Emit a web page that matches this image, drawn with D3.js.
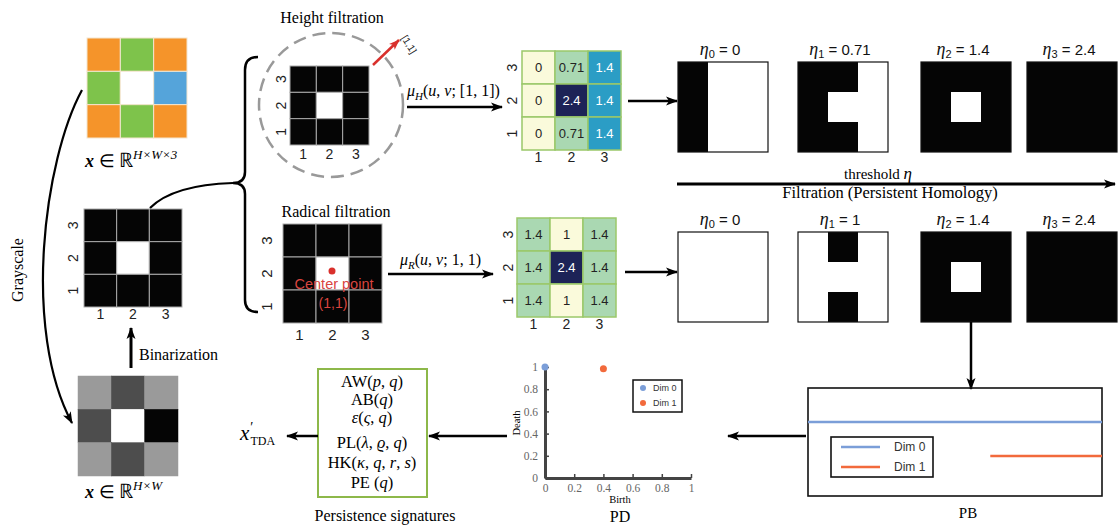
<!DOCTYPE html>
<html>
<head>
<meta charset="utf-8">
<script src="https://cdn.jsdelivr.net/npm/d3@7"></script>
<style>
body { margin: 0; background: #fff; }
text { font-family: "Liberation Sans", Arial, sans-serif; }
.serif { font-family: "Liberation Serif", "Times New Roman", serif; }
</style>
</head>
<body>
<svg id="fig" width="1119" height="528"></svg>
<script>
// ---- data ----
var cellIdx = [1, 2, 3];
var rgbImage = [["#F5942A", "#7EC34B", "#F5942A"],
                ["#7EC34B", "#FFFFFF", "#55A4DA"],
                ["#F5942A", "#7EC34B", "#F5942A"]];
var grayImage = [[154, 77, 154], [77, 255, 5], [154, 77, 154]];
var binaryImage = [[1, 1, 1], [1, 0, 1], [1, 1, 1]];
var heightValues = [[0, 0.71, 1.4], [0, 2.4, 1.4], [0, 0.71, 1.4]];   // top row = row 3
var radialValues = [[1.4, 1, 1.4], [1.4, 2.4, 1.4], [1.4, 1, 1.4]];
var heightColors = ["#FAFADB", "#AAD8B2", "#2B9DC5", "#1D2357"];
var radialColors = ["#FAFADB", "#AAD8B2", "#1D2357"];
var heightEta = [0, 0.71, 1.4, 2.4];
var radialEta = [0, 1, 1.4, 2.4];
var pdDim0 = [[0, 1]];
var pdDim1 = [[0.4, 0.985]];
var pdTicks = [0, 0.2, 0.4, 0.6, 0.8, 1];
var dims = ["Dim 0", "Dim 1"];
var dimColors = ["#7B9ED8", "#F26A3C"];
var pbStart = [0, 0.62];
var pbEnd = [1, 1];
var signatures = [
  [["AW", 0], ["(", 0], ["p", 1], [", ", 0], ["q", 1], [")", 0]],
  [["AB", 0], ["(", 0], ["q", 1], [")", 0]],
  [["ε", 1], ["(", 0], ["ς", 1], [", ", 0], ["q", 1], [")", 0]],
  [["PL", 0], ["(", 0], ["λ", 1], [", ", 0], ["ϱ", 1], [", ", 0], ["q", 1], [")", 0]],
  [["HK", 0], ["(", 0], ["κ", 1], [", ", 0], ["q", 1], [", ", 0], ["r", 1], [", ", 0], ["s", 1], [")", 0]],
  [["PE ", 0], ["(", 0], ["q", 1], [")", 0]]
];

var svg = d3.select("#fig");

// arrow heads
var defs = svg.append("defs");
[["ah", "#000", 12, 10], ["ahr", "#D9302C", 11, 9]].forEach(function(m) {
  defs.append("marker")
    .attr("id", m[0])
    .attr("viewBox", "0 0 12 10")
    .attr("refX", 11).attr("refY", 5)
    .attr("markerWidth", m[2]).attr("markerHeight", m[3])
    .attr("markerUnits", "userSpaceOnUse")
    .attr("orient", "auto")
    .append("path").attr("d", "M0,0.5 L12,5 L0,9.5 L3,5 Z").attr("fill", m[1]);
});

function arrow(x1, y1, x2, y2, w) {
  svg.append("line")
    .attr("x1", x1).attr("y1", y1).attr("x2", x2).attr("y2", y2)
    .attr("stroke", "#000").attr("stroke-width", w || 2.5)
    .attr("marker-end", "url(#ah)");
}

// draws a 3x3 grid using band scales
function grid(x0, y0, size, matrix, fillOf, stroke, sw) {
  var bx = d3.scaleBand().domain([0, 1, 2]).range([x0, x0 + size]);
  var by = d3.scaleBand().domain([0, 1, 2]).range([y0, y0 + size]);
  var cells = [];
  matrix.forEach(function(row, r) {
    row.forEach(function(v, c) { cells.push({ r: r, c: c, v: v }); });
  });
  var g = svg.append("g");
  g.selectAll("rect").data(cells).enter().append("rect")
    .attr("x", function(d) { return bx(d.c); })
    .attr("y", function(d) { return by(d.r); })
    .attr("width", bx.bandwidth())
    .attr("height", by.bandwidth())
    .attr("fill", function(d) { return fillOf(d.v); })
    .attr("stroke", stroke === "same" ? function(d) { return fillOf(d.v); } : stroke)
    .attr("stroke-width", sw);
  return { g: g, cells: cells, bx: bx, by: by };
}

function axisLabels(gr, yLabX, xLabY, size) {
  // y labels (rotated), row 3 on top
  gr.g.selectAll(".yl").data([0, 1, 2]).enter().append("text")
    .attr("transform", function(r) {
      return "translate(" + yLabX + "," + (gr.by(r) + gr.by.bandwidth() / 2) + ") rotate(-90)";
    })
    .attr("text-anchor", "middle").attr("dy", "0.36em")
    .style("font-size", size + "px").attr("fill", "#222")
    .text(function(r) { return cellIdx[2 - r]; });
  gr.g.selectAll(".xl").data([0, 1, 2]).enter().append("text")
    .attr("x", function(c) { return gr.bx(c) + gr.bx.bandwidth() / 2; })
    .attr("y", xLabY)
    .attr("text-anchor", "middle")
    .style("font-size", size + "px").attr("fill", "#222")
    .text(function(c) { return cellIdx[c]; });
}

function serif(x, y, str, size, anchor) {
  return svg.append("text").attr("class", "serif")
    .attr("x", x).attr("y", y)
    .attr("text-anchor", anchor || "middle")
    .style("font-size", size + "px")
    .text(str);
}

function rich(x, y, segs, size, anchor) {
  var t = svg.append("text").attr("class", "serif")
    .attr("x", x).attr("y", y)
    .attr("text-anchor", anchor || "middle")
    .style("font-size", size + "px");
  segs.forEach(function(s) {
    var ts = t.append("tspan").text(s[0]);
    if (s[1]) ts.style("font-style", "italic");
    if (s[2]) ts.style("font-size", s[2] + "px");
    if (s[3]) ts.attr("dy", s[3]);
    if (s[4]) ts.attr("dx", s[4]);
  });
  return t;
}

// ---- left column ----
grid(87, 38, 100, rgbImage, function(v) { return v; }, "#f4e6d0", 1);
rich(85, 167, [["x", 1], ["  ∈  ", 0], ["ℝ", 0, 20], ["H×W×3", 1, 13, -8]], 18, "start")
  .select("tspan").style("font-weight", "bold");

var bin = grid(84, 209, 98, binaryImage, function(v) { return v ? "#050505" : "#fff"; }, "#aaa", 1);
axisLabels(bin, 73, 319, 14);

grid(78, 376, 100, grayImage, function(v) { return d3.rgb(v, v, v); }, "same", 0.5);
rich(85, 498, [["x", 1], ["  ∈  ", 0], ["ℝ", 0, 20], ["H×W", 1, 13, -8]], 18, "start")
  .select("tspan").style("font-weight", "bold");

arrow(131, 368, 131, 328, 3);
serif(139, 360, "Binarization", 16, "start");

svg.append("path").attr("d", "M82,90 C44,160 22,330 72,423")
  .attr("fill", "none").attr("stroke", "#000").attr("stroke-width", 2.2)
  .attr("marker-end", "url(#ah)");
svg.append("text").attr("class", "serif")
  .attr("transform", "translate(23,270) rotate(-90)")
  .attr("text-anchor", "middle").style("font-size", "16px").text("Grayscale");

// connector and brace
svg.append("path").attr("d", "M150,208 C168,190 200,184 233,183")
  .attr("fill", "none").attr("stroke", "#000").attr("stroke-width", 2.2);
svg.append("path")
  .attr("d", "M258,57 Q245,57 245,70 L245,172 Q245,183 233,183 Q245,183 245,194 L245,300 Q245,312 258,312")
  .attr("fill", "none").attr("stroke", "#000").attr("stroke-width", 2.5);

// ---- height filtration ----
serif(332, 23, "Height filtration", 16);
svg.append("circle").attr("cx", 331).attr("cy", 105).attr("r", 72)
  .attr("fill", "none").attr("stroke", "#999").attr("stroke-width", 2.5)
  .attr("stroke-dasharray", "13,7");
var hb = grid(290, 66, 79, binaryImage, function(v) { return v ? "#050505" : "#fff"; }, "#aaa", 1);
axisLabels(hb, 281, 159, 14);
svg.append("line").attr("x1", 373).attr("y1", 65).attr("x2", 399).attr("y2", 40)
  .attr("stroke", "#D9302C").attr("stroke-width", 2.5).attr("marker-end", "url(#ahr)");
svg.append("text").attr("transform", "translate(401,38) rotate(58)")
  .style("font-size", "10px").attr("fill", "#222").text("[1,1]");
arrow(407, 107, 502, 107);
rich(407, 96, [["μ", 1], ["H", 1, 11, 4], ["(", 0, 16, -4], ["u", 1], [", ", 0], ["v", 1], ["; [1, 1])", 0]], 16, "start");

var hcol = d3.scaleOrdinal().domain([0, 0.71, 1.4, 2.4]).range(heightColors);
var hm1 = grid(522, 51, 99, heightValues, hcol, "#9BC86A", 1.5);
hm1.g.selectAll(".v").data(hm1.cells).enter().append("text")
  .attr("x", function(d) { return hm1.bx(d.c) + hm1.bx.bandwidth() / 2; })
  .attr("y", function(d) { return hm1.by(d.r) + hm1.by.bandwidth() / 2; })
  .attr("dy", "0.36em").attr("text-anchor", "middle").style("font-size", "13px")
  .attr("fill", function(d) { return d3.hsl(hcol(d.v)).l < 0.5 ? "#fff" : "#222"; })
  .text(function(d) { return d.v; });
axisLabels(hm1, 512, 162, 14);
arrow(628, 101, 677, 101);

// ---- radical filtration ----
serif(336, 217, "Radical filtration", 16);
var rb = grid(283, 224, 99, binaryImage, function(v) { return v ? "#050505" : "#fff"; }, "#aaa", 1);
axisLabels(rb, 267, 340, 15);
svg.append("circle").attr("cx", 332).attr("cy", 271).attr("r", 3.5).attr("fill", "#D9302C");
svg.append("text").attr("x", 334).attr("y", 289).attr("text-anchor", "middle")
  .style("font-size", "14.5px").attr("fill", "#D9443F").text("Center point");
svg.append("text").attr("x", 333).attr("y", 308).attr("text-anchor", "middle")
  .style("font-size", "14px").attr("fill", "#D9443F").text("(1,1)");
arrow(388, 274, 493, 274);
rich(400, 265, [["μ", 1], ["R", 1, 11, 4], ["(", 0, 16, -4], ["u", 1], [", ", 0], ["v", 1], ["; 1, 1)", 0]], 16, "start");

var rcol = d3.scaleOrdinal().domain([1, 1.4, 2.4]).range(radialColors);
var hm2 = grid(517, 218, 99, radialValues, rcol, "#9BC86A", 1.5);
hm2.g.selectAll(".v").data(hm2.cells).enter().append("text")
  .attr("x", function(d) { return hm2.bx(d.c) + hm2.bx.bandwidth() / 2; })
  .attr("y", function(d) { return hm2.by(d.r) + hm2.by.bandwidth() / 2; })
  .attr("dy", "0.36em").attr("text-anchor", "middle").style("font-size", "13px")
  .attr("fill", function(d) { return d3.hsl(rcol(d.v)).l < 0.5 ? "#fff" : "#222"; })
  .text(function(d) { return d.v; });
axisLabels(hm2, 508, 329, 14);
arrow(625, 272, 677, 272);

// ---- filtration thresholds ----
var thrPos = [678, 798, 921, 1027];
function thresholdRow(values, etas, y0, labY) {
  etas.forEach(function(eta, k) {
    var x0 = thrPos[k];
    var g = grid(x0, y0, 90, values, function(v) { return v <= eta ? "#050505" : "#fff"; }, "none", 0);
    g.g.append("rect").attr("x", x0).attr("y", y0).attr("width", 90).attr("height", 90)
      .attr("fill", "none").attr("stroke", "#111").attr("stroke-width", 1.2);
    var t = svg.append("text").attr("x", x0 + 42).attr("y", labY).attr("text-anchor", "middle").attr("fill", "#111");
    t.append("tspan").attr("class", "serif").style("font-style", "italic").style("font-size", "18px").text("η");
    t.append("tspan").style("font-size", "11px").attr("dy", 3).text(k);
    t.append("tspan").style("font-size", "15px").attr("dy", -3).text(" = " + eta);
  });
}
thresholdRow(heightValues, heightEta, 62, 55);
thresholdRow(radialValues, radialEta, 232, 225);

arrow(677, 184, 1115, 184, 3);
rich(878, 179, [["threshold   ", 0], ["η", 1, 17]], 15);
serif(890, 198, "Filtration (Persistent Homology)", 16.5);

arrow(971, 322, 971, 389, 2.5);

// ---- PB ----
var pbX = d3.scaleLinear().domain([0, 1]).range([808, 1102]);
var pbY = d3.scalePoint().domain(dims).range([422, 456]);
svg.append("rect").attr("x", 808).attr("y", 388).attr("width", 294).attr("height", 108)
  .attr("fill", "none").attr("stroke", "#111").attr("stroke-width", 1.6);
svg.append("g").selectAll("line").data(dims).enter().append("line")
  .attr("x1", function(d, i) { return pbX(pbStart[i]); })
  .attr("x2", function(d, i) { return pbX(pbEnd[i]); })
  .attr("y1", function(d) { return pbY(d); })
  .attr("y2", function(d) { return pbY(d); })
  .attr("stroke", function(d, i) { return dimColors[i]; })
  .attr("stroke-width", 2.5);
svg.append("rect").attr("x", 831).attr("y", 437).attr("width", 102).attr("height", 40)
  .attr("fill", "#fff").attr("stroke", "#111").attr("stroke-width", 1.6);
var pbLeg = svg.append("g").selectAll("g").data(dims).enter().append("g");
pbLeg.append("line").attr("x1", 841).attr("x2", 880)
  .attr("y1", function(d, i) { return 447 + i * 20; })
  .attr("y2", function(d, i) { return 447 + i * 20; })
  .attr("stroke", function(d, i) { return dimColors[i]; }).attr("stroke-width", 2.5);
pbLeg.append("text").attr("x", 894).attr("y", function(d, i) { return 447 + i * 20; })
  .attr("dy", "0.36em").style("font-size", "12px").attr("fill", "#333").text(function(d) { return d; });
serif(968, 518, "PB", 15);

arrow(806, 436, 728, 436);

// ---- PD ----
var px = d3.scaleLinear().domain([0, 1]).range([545, 691]);
var py = d3.scaleLinear().domain([0, 1]).range([478, 367]);
var fmt = d3.format("~g");
var xa = svg.append("g").attr("transform", "translate(0,478)")
  .call(d3.axisBottom(px).tickValues(pdTicks).tickFormat(fmt).tickSizeInner(-4).tickSizeOuter(0).tickPadding(6));
var ya = svg.append("g").attr("transform", "translate(545,0)")
  .call(d3.axisLeft(py).tickValues(pdTicks).tickFormat(fmt).tickSizeInner(-4).tickSizeOuter(0).tickPadding(7));
[xa, ya].forEach(function(a) {
  a.select(".domain").attr("stroke", "#444").attr("stroke-width", 3);
  a.selectAll(".tick line").attr("stroke", "#444").attr("stroke-width", 1.5);
  a.selectAll(".tick text").attr("class", "serif").style("font-size", "11.5px").attr("fill", "#666");
});
svg.append("g").selectAll("circle").data(pdDim0).enter().append("circle")
  .attr("cx", function(d) { return px(d[0]); }).attr("cy", function(d) { return py(d[1]); })
  .attr("r", 3.5).attr("fill", dimColors[0]);
svg.append("g").selectAll("circle").data(pdDim1).enter().append("circle")
  .attr("cx", function(d) { return px(d[0]); }).attr("cy", function(d) { return py(d[1]); })
  .attr("r", 3.5).attr("fill", dimColors[1]);
svg.append("rect").attr("x", 633).attr("y", 380).attr("width", 49).attr("height", 32)
  .attr("fill", "#fff").attr("stroke", "#111").attr("stroke-width", 1.5);
var pdLeg = svg.append("g").selectAll("g").data(dims).enter().append("g");
pdLeg.append("circle").attr("cx", 643).attr("cy", function(d, i) { return 388 + i * 15; })
  .attr("r", 3).attr("fill", function(d, i) { return dimColors[i]; });
pdLeg.append("text").attr("x", 653).attr("y", function(d, i) { return 388 + i * 15; })
  .attr("dy", "0.36em").style("font-size", "9px").attr("fill", "#333").text(function(d) { return d; });
serif(620, 503, "Birth", 10.5);
svg.append("text").attr("class", "serif").attr("transform", "translate(520,423) rotate(-90)")
  .attr("text-anchor", "middle").style("font-size", "10.5px").text("Death");
serif(620, 522, "PD", 16);

arrow(507, 436, 429, 436);

// ---- persistence signatures ----
svg.append("rect").attr("x", 318).attr("y", 369).attr("width", 109).attr("height", 128)
  .attr("fill", "none").attr("stroke", "#8DB84A").attr("stroke-width", 2);
var sigY = [387, 405, 423, 448, 468, 488];
signatures.forEach(function(segs, i) { rich(372, sigY[i], segs, 16.5); });
serif(385, 521, "Persistence signatures", 16);
arrow(318, 436, 287, 436);
rich(240, 440, [["x", 1, 21], ["′", 0, 14, -8, 1], ["TDA", 0, 12, 13, -3]], 21, "start");
</script>
</body>
</html>
